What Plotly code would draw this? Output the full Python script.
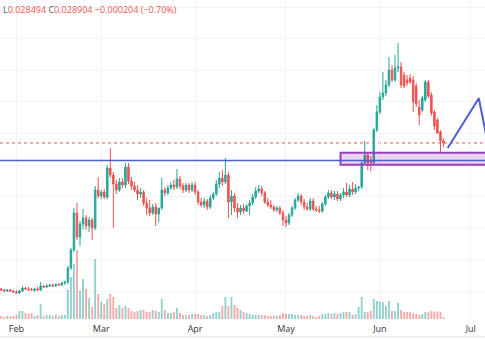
import plotly.graph_objects as go
import pandas as pd

START = "2023-01-27"

opens = [0.0143, 0.0142, 0.0141, 0.0142, 0.0141, 0.0140, 0.0139, 0.0141, 0.0144, 0.0143, 0.01425, 0.0142, 0.0143, 0.0142,
         0.0146, 0.0145, 0.0146, 0.0147, 0.0146, 0.01475, 0.0147, 0.0149, 0.0150, 0.0164, 0.0182, 0.0219, 0.0195, 0.0208,
         0.0214, 0.0206, 0.0212, 0.0204, 0.0242, 0.0236, 0.0240, 0.0235, 0.0264, 0.0257, 0.0248, 0.0242, 0.0250, 0.0247,
         0.0265, 0.0251, 0.0246, 0.0242, 0.0238, 0.0240, 0.0229, 0.0224, 0.0219, 0.0225, 0.0218, 0.0224, 0.0242, 0.0239,
         0.0244, 0.0247, 0.0245, 0.0253, 0.0246, 0.0242, 0.0247, 0.0242, 0.0247, 0.0240, 0.0230, 0.0227, 0.0231, 0.0225,
         0.0234, 0.0238, 0.0248, 0.0254, 0.0250, 0.0257, 0.0230, 0.0236, 0.0224, 0.0220, 0.0224, 0.0221, 0.0226, 0.0229,
         0.0235, 0.0241, 0.0243, 0.0239, 0.0230, 0.0227, 0.0225, 0.0222, 0.0224, 0.0219, 0.0212, 0.0209, 0.0217, 0.0224,
         0.0232, 0.0236, 0.0230, 0.0225, 0.0223, 0.0231, 0.0223, 0.0222, 0.0221, 0.0228, 0.0235, 0.0239, 0.0235, 0.0238,
         0.0233, 0.0237, 0.0240, 0.0237, 0.0243, 0.0240, 0.0244, 0.0245, 0.0269, 0.0277, 0.0272, 0.0269, 0.0302, 0.0320,
         0.0335, 0.0339, 0.0347, 0.0362, 0.0352, 0.0364, 0.0365, 0.0357, 0.0352, 0.0354, 0.0352, 0.0346, 0.0325, 0.0322,
         0.0332, 0.0350, 0.0337, 0.0320, 0.0312, 0.0300, 0.029108]
highs = [0.0144, 0.0143, 0.0143, 0.0143, 0.0142, 0.0142, 0.0142, 0.0146, 0.0145, 0.0145, 0.0144, 0.0144, 0.0145, 0.0150,
         0.0147, 0.0148, 0.0148, 0.0148, 0.0149, 0.0149, 0.0150, 0.0151, 0.0166, 0.0184, 0.0224, 0.0229, 0.0211, 0.0223,
         0.0217, 0.0215, 0.0214, 0.0246, 0.0255, 0.0242, 0.0243, 0.0267, 0.0284, 0.0260, 0.0252, 0.0254, 0.0254, 0.0269,
         0.0269, 0.0255, 0.0250, 0.0247, 0.0244, 0.0242, 0.0234, 0.0232, 0.0228, 0.0229, 0.0224, 0.0254, 0.0245, 0.0247,
         0.0250, 0.0252, 0.0263, 0.0256, 0.0249, 0.0249, 0.0249, 0.0250, 0.0250, 0.0242, 0.0234, 0.0234, 0.0233, 0.0237,
         0.0240, 0.0252, 0.0260, 0.0262, 0.0274, 0.0260, 0.0242, 0.0239, 0.0229, 0.0227, 0.0228, 0.0228, 0.0232, 0.0238,
         0.0245, 0.0247, 0.0246, 0.0241, 0.0234, 0.0232, 0.0227, 0.0226, 0.0226, 0.0222, 0.0216, 0.0219, 0.0226, 0.0234,
         0.0239, 0.0238, 0.0233, 0.0229, 0.0234, 0.0234, 0.0226, 0.0226, 0.0230, 0.0237, 0.0242, 0.0242, 0.0241, 0.0241,
         0.0239, 0.0244, 0.0249, 0.0247, 0.0250, 0.0248, 0.0246, 0.0271, 0.0291, 0.0280, 0.0276, 0.0304, 0.0327, 0.0340,
         0.0360, 0.0352, 0.0375, 0.0367, 0.0377, 0.0389, 0.0370, 0.0360, 0.0357, 0.0358, 0.0356, 0.0349, 0.0332, 0.0336,
         0.0352, 0.0352, 0.0340, 0.0322, 0.0314, 0.0302, 0.02935]
lows = [0.0141, 0.0140, 0.0140, 0.0140, 0.0139, 0.0138, 0.0138, 0.0140, 0.0142, 0.0141, 0.0141, 0.0140, 0.0141, 0.0141,
        0.0144, 0.0144, 0.0145, 0.0145, 0.0145, 0.0146, 0.0146, 0.0147, 0.0148, 0.0162, 0.0180, 0.0192, 0.0186, 0.0203,
        0.0202, 0.0200, 0.0192, 0.0202, 0.0234, 0.0233, 0.0233, 0.0233, 0.0254, 0.0204, 0.0238, 0.0240, 0.0244, 0.0244,
        0.0248, 0.0242, 0.0240, 0.0232, 0.0234, 0.0226, 0.0217, 0.0216, 0.0217, 0.0206, 0.0210, 0.0222, 0.0236, 0.0237,
        0.0242, 0.0242, 0.0243, 0.0243, 0.0239, 0.0240, 0.0239, 0.0240, 0.0237, 0.0227, 0.0225, 0.0224, 0.0222, 0.0223,
        0.0232, 0.0236, 0.0244, 0.0246, 0.0248, 0.0214, 0.0217, 0.0220, 0.0214, 0.0217, 0.0218, 0.0220, 0.0217, 0.0227,
        0.0233, 0.0239, 0.0236, 0.0228, 0.0225, 0.0223, 0.0220, 0.0220, 0.0217, 0.0206, 0.0205, 0.0207, 0.0215, 0.0222,
        0.0230, 0.0227, 0.0222, 0.0221, 0.0221, 0.0221, 0.0220, 0.0219, 0.0219, 0.0226, 0.0233, 0.0233, 0.0232, 0.0231,
        0.0231, 0.0234, 0.0235, 0.0235, 0.0237, 0.0238, 0.0241, 0.0243, 0.0267, 0.0262, 0.0261, 0.0267, 0.0300, 0.0318,
        0.0332, 0.0336, 0.0345, 0.0350, 0.0350, 0.0360, 0.0344, 0.0344, 0.0346, 0.0348, 0.0320, 0.0325, 0.0307, 0.0320,
        0.0330, 0.0334, 0.0316, 0.0302, 0.0298, 0.0280, 0.028494]
closes = [0.0142, 0.0141, 0.0142, 0.0141, 0.0140, 0.0139, 0.0141, 0.0144, 0.0143, 0.01425, 0.0142, 0.0143, 0.0142, 0.0146,
          0.0145, 0.0146, 0.0147, 0.0146, 0.01475, 0.0147, 0.0149, 0.0150, 0.0164, 0.0182, 0.0219, 0.0195, 0.0208, 0.0214,
          0.0206, 0.0212, 0.0204, 0.0242, 0.0236, 0.0240, 0.0235, 0.0264, 0.0257, 0.0248, 0.0242, 0.0250, 0.0247, 0.0265,
          0.0251, 0.0246, 0.0242, 0.0238, 0.0240, 0.0229, 0.0224, 0.0219, 0.0225, 0.0218, 0.0224, 0.0242, 0.0239, 0.0244,
          0.0247, 0.0245, 0.0253, 0.0246, 0.0242, 0.0247, 0.0242, 0.0247, 0.0240, 0.0230, 0.0227, 0.0231, 0.0225, 0.0234,
          0.0238, 0.0248, 0.0254, 0.0250, 0.0257, 0.0230, 0.0236, 0.0224, 0.0220, 0.0224, 0.0221, 0.0226, 0.0229, 0.0235,
          0.0241, 0.0243, 0.0239, 0.0230, 0.0227, 0.0225, 0.0222, 0.0224, 0.0219, 0.0212, 0.0209, 0.0217, 0.0224, 0.0232,
          0.0236, 0.0230, 0.0225, 0.0223, 0.0231, 0.0223, 0.0222, 0.0221, 0.0228, 0.0235, 0.0239, 0.0235, 0.0238, 0.0233,
          0.0237, 0.0240, 0.0237, 0.0243, 0.0240, 0.0244, 0.0245, 0.0269, 0.0277, 0.0269, 0.0269, 0.0302, 0.0320, 0.0335,
          0.0339, 0.0347, 0.0362, 0.0352, 0.0364, 0.0365, 0.0347, 0.0346, 0.0349, 0.0350, 0.0330, 0.0328, 0.0317, 0.0334,
          0.0350, 0.0336, 0.0319, 0.0306, 0.0299, 0.029108, 0.028904]
volumes = [3, 2, 3, 3, 3, 4, 8, 8, 6, 5, 6, 3, 4, 15, 3, 4, 4, 3, 4, 3, 4, 4,
           29, 42, 55, 69, 28, 40, 30, 21, 12, 60, 25, 17, 15, 20, 25, 22, 11, 14, 11, 13, 11, 8, 7, 8,
           9, 9, 7, 7, 9, 8, 7, 20, 9, 6, 6, 7, 11, 6, 4, 4, 4, 5, 5, 5, 4, 4, 3, 4, 6, 7, 7, 13, 22,
           13, 22, 14, 11, 9, 7, 6, 5, 4, 4, 4, 4, 4, 3, 3, 3, 3, 4, 6, 5, 5, 5, 4, 4, 4, 3, 3, 4, 3, 2,
           3, 5, 5, 6, 5, 6, 5, 6, 7, 7, 7, 4, 5, 12, 22, 7, 7, 8, 20, 18, 17, 17, 13, 18, 8, 8, 16, 9,
           7, 7, 7, 6, 5, 4, 5, 7, 7, 8, 7.5, 7.5, 7, 2]

LEVEL = 0.02715
ZONE_X = ["2023-05-19", "2023-07-20"]
ZONE_Y = [0.02673, 0.02793]
PATH_X = ["2023-06-23 09:30", "2023-07-03 16:00", "2023-07-06 23:00"]
PATH_Y = [0.0284, 0.03337, 0.02837]

n = len(closes)
assert len(opens) == n and len(highs) == n and len(lows) == n and len(volumes) == n
dates = pd.date_range(START, periods=n, freq="D")

UP, DOWN = "#26a69a", "#ef5350"
vol_colors = ["rgba(38,166,154,0.5)" if c >= o else "rgba(239,83,80,0.5)" for o, c in zip(opens, closes)]

fig = go.Figure()
fig.add_trace(go.Bar(x=dates, y=volumes, marker_color=vol_colors, marker_line_width=0,
                     width=0.62 * 86400000, yaxis="y", hoverinfo="skip"))
fig.add_trace(go.Candlestick(x=dates, open=opens, high=highs, low=lows, close=closes, yaxis="y2",
                             increasing=dict(line=dict(color=UP, width=1), fillcolor=UP),
                             decreasing=dict(line=dict(color=DOWN, width=1), fillcolor=DOWN),
                             whiskerwidth=0))
fig.add_trace(go.Scatter(x=PATH_X, y=PATH_Y, mode="lines", yaxis="y2",
                         line=dict(color="#4b5fd8", width=2), hoverinfo="skip"))

fig.add_shape(type="rect", xref="x", yref="y2", x0=ZONE_X[0], x1=ZONE_X[1], y0=ZONE_Y[0], y1=ZONE_Y[1],
              fillcolor="rgba(156,39,176,0.2)", line=dict(color="#9c3fc0", width=2), layer="above")
fig.add_shape(type="line", xref="paper", yref="y2", x0=0, x1=1, y0=LEVEL, y1=LEVEL,
              line=dict(color="#4b5fd8", width=1.5), layer="above")
fig.add_shape(type="line", xref="paper", yref="y2", x0=0, x1=1, y0=closes[-1], y1=closes[-1],
              line=dict(color=DOWN, width=1, dash="dot"), layer="below")
fig.add_shape(type="line", xref="paper", yref="paper", x0=0, x1=1, y0=-18 / 319, y1=-18 / 319,
              line=dict(color="#e0e3eb", width=1))

chg = closes[-1] - closes[-2]
pct = chg / closes[-2] * 100
header = ('<span style="color:#555">L</span>{:.6f} <span style="color:#555">C</span>{:.6f} '
          '\u2212{:.6f} (\u2212{:.2f}%)').format(lows[-1], closes[-1], abs(chg), abs(pct))
fig.add_annotation(xref="paper", yref="paper", x=0.003, y=1 - 10 / 319, xanchor="left", yanchor="middle",
                   showarrow=False, text=header, font=dict(size=9, family="Open Sans", color=DOWN))

fig.update_layout(
    width=485, height=360, margin=dict(l=0, r=0, t=0, b=41),
    paper_bgcolor="white", plot_bgcolor="white", showlegend=False,
    xaxis=dict(type="date", range=["2023-01-26 14:00", "2023-07-05 17:00"], rangeslider=dict(visible=False),
               tickformat="%b", dtick="M1", tick0="2023-02-01", showgrid=True, gridcolor="#f0f3fa",
               zeroline=False, showline=False, ticks="", ticklabelstandoff=3,
               tickfont=dict(size=9, color="#333", family="Open Sans")),
    yaxis=dict(range=[0, 319], visible=False, fixedrange=True),
    yaxis2=dict(range=[0.0113, 0.0432], overlaying="y", side="right", showticklabels=False, showgrid=True,
                gridcolor="#f0f3fa", dtick=0.00316, tick0=0.02353, zeroline=False, ticks=""),
)

fig.write_html("out.html", config={"displayModeBar": False},
               post_script="document.body.style.margin='0';document.body.style.padding='0';")
